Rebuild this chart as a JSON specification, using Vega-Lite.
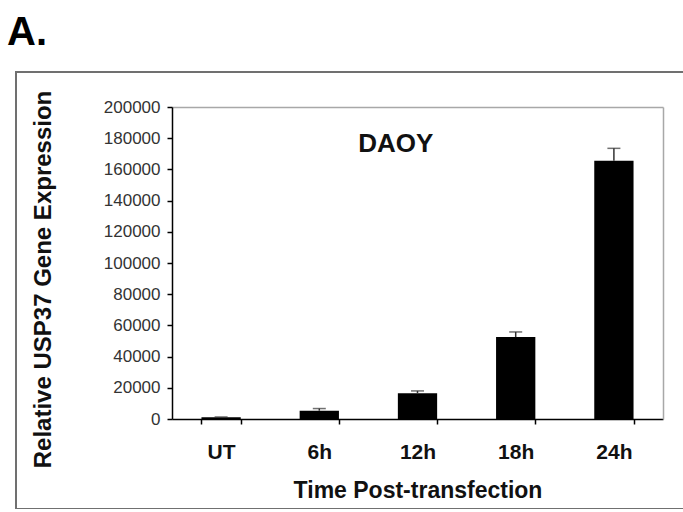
{
  "$schema": "https://vega.github.io/schema/vega-lite/v6.json",
  "width": 680,
  "height": 437,
  "autosize": {"type": "none"},
  "padding": {"left": 16, "top": 72, "right": 0, "bottom": 0},
  "background": "white",
  "config": {
    "font": "Liberation Sans",
    "view": {"stroke": "#707070", "strokeWidth": 2, "fill": "white"}
  },
  "title": {
    "text": "A.",
    "anchor": "start",
    "frame": "group",
    "fontSize": 40,
    "fontWeight": "bold",
    "font": "Liberation Sans",
    "color": "#000000",
    "baseline": "alphabetic",
    "offset": 28,
    "dy": 41,
    "dx": -9
  },
  "data": {
    "values": [
      {"time": "UT", "expression": 1200, "upper": 1300},
      {"time": "6h", "expression": 5300, "upper": 6700},
      {"time": "12h", "expression": 16500, "upper": 18000},
      {"time": "18h", "expression": 52500, "upper": 55800},
      {"time": "24h", "expression": 165500, "upper": 173500}
    ]
  },
  "resolve": {"axis": {"x": "independent", "y": "independent"}},
  "layer": [
    {
      "mark": {"type": "bar", "color": "#000000"},
      "encoding": {
        "x": {
          "field": "time",
          "type": "ordinal",
          "sort": ["UT", "6h", "12h", "18h", "24h"],
          "scale": {"range": [156, 647], "paddingInner": 0.6, "paddingOuter": 0.3},
          "axis": {
            "orient": "bottom",
            "offset": -90,
            "title": "Time Post-transfection",
            "titleFontSize": 23,
            "titleFontWeight": "bold",
            "titleColor": "#111111",
            "titlePadding": 17,
            "labelFontSize": 21,
            "labelFontWeight": "bold",
            "labelColor": "#111111",
            "labelPadding": 17,
            "labelAngle": 0,
            "domainColor": "#000000",
            "domainWidth": 1.5,
            "tickColor": "#000000",
            "tickWidth": 1.5,
            "tickSize": 5,
            "tickBand": "extent"
          }
        },
        "y": {
          "field": "expression",
          "type": "quantitative",
          "scale": {"domain": [0, 200000], "range": [347, 35], "nice": false, "zero": true},
          "axis": {
            "orient": "left",
            "offset": -156,
            "values": [0, 20000, 40000, 60000, 80000, 100000, 120000, 140000, 160000, 180000, 200000],
            "format": "d",
            "title": "Relative USP37 Gene Expression",
            "titleFontSize": 24,
            "titleFontWeight": "bold",
            "titleColor": "#111111",
            "titlePadding": 48,
            "titleY": 207,
            "labelFontSize": 17,
            "labelColor": "#333333",
            "labelPadding": 7,
            "domainColor": "#000000",
            "domainWidth": 1.5,
            "tickColor": "#000000",
            "tickWidth": 1.5,
            "tickSize": 5,
            "grid": false
          }
        }
      }
    },
    {
      "mark": {"type": "rule", "color": "#333333", "strokeWidth": 1.5},
      "encoding": {
        "x": {
          "field": "time",
          "type": "ordinal",
          "sort": ["UT", "6h", "12h", "18h", "24h"],
          "axis": {
            "orient": "top",
            "offset": -35,
            "title": null,
            "labels": false,
            "ticks": false,
            "domainColor": "#a8a8a8",
            "domainWidth": 1.5
          }
        },
        "y": {
          "field": "expression",
          "type": "quantitative",
          "axis": {
            "orient": "right",
            "offset": -33,
            "title": null,
            "labels": false,
            "ticks": false,
            "grid": false,
            "domainColor": "#a8a8a8",
            "domainWidth": 1.5
          }
        },
        "y2": {"field": "upper"}
      }
    },
    {
      "mark": {"type": "tick", "color": "#333333", "thickness": 1.5, "size": 13},
      "encoding": {
        "x": {"field": "time", "type": "ordinal", "sort": ["UT", "6h", "12h", "18h", "24h"], "axis": null},
        "y": {"field": "upper", "type": "quantitative", "axis": null}
      }
    },
    {
      "data": {"values": [{"label": "DAOY"}]},
      "mark": {"type": "text", "fontSize": 26, "fontWeight": "bold", "color": "#111111", "baseline": "middle", "align": "center", "dx": -2},
      "encoding": {
        "x": {"datum": "12h", "type": "ordinal", "bandPosition": 0, "axis": null},
        "y": {"datum": 176000, "type": "quantitative", "axis": null},
        "text": {"field": "label"}
      }
    }
  ]
}
